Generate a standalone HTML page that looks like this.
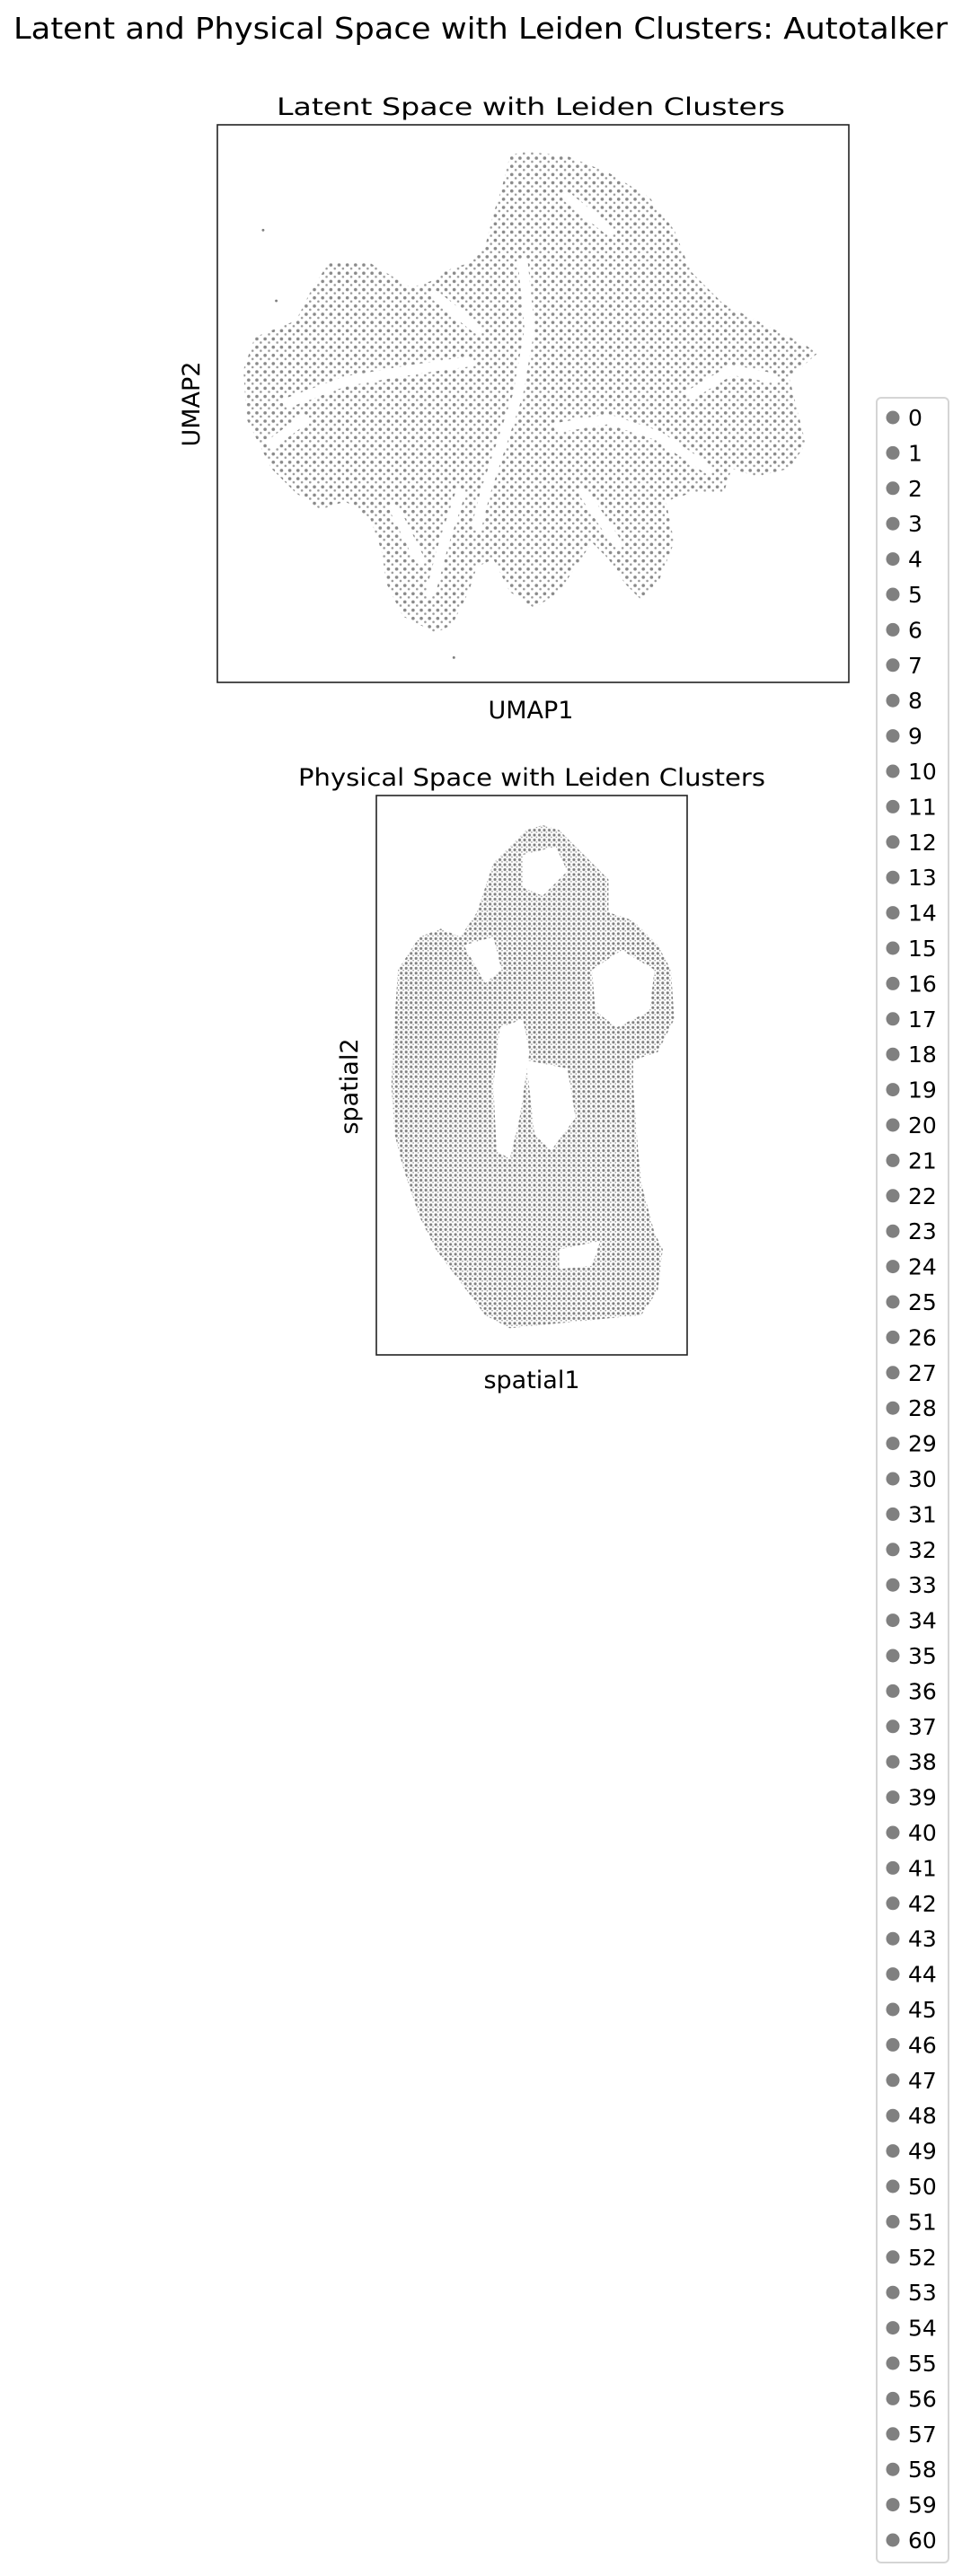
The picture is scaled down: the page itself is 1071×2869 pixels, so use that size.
<!DOCTYPE html>
<html><head><meta charset="utf-8"><style>
html,body{margin:0;padding:0;background:#fff;}
svg{display:block;font-family:"DejaVu Sans","Liberation Sans",sans-serif;}
</style></head><body>
<svg id="fig" width="1071" height="2869" viewBox="0 0 1071 2869">
<defs>
<pattern id="dotsU" width="5" height="5" patternUnits="userSpaceOnUse">
<rect width="5" height="5" fill="#fff"/><circle cx="1.2" cy="1.2" r="1.0" fill="#8a8a8a"/><circle cx="3.6" cy="3.4" r="0.7" fill="#999"/>
</pattern>
<pattern id="dotsS" width="3" height="3" patternUnits="userSpaceOnUse">
<rect width="3" height="3" fill="#fff"/><circle cx="1" cy="1" r="0.85" fill="#808080"/><circle cx="2.3" cy="2.3" r="0.45" fill="#999"/>
</pattern>
</defs>
<text x="535" y="43" text-anchor="middle" font-size="33" textLength="1040" lengthAdjust="spacingAndGlyphs">Latent and Physical Space with Leiden Clusters: Autotalker</text>

<g>
<text x="591" y="128" text-anchor="middle" font-size="27" textLength="566" lengthAdjust="spacingAndGlyphs">Latent Space with Leiden Clusters</text>
<g id="umapShapes" transform="scale(1.8308)"></g>
<rect x="242" y="139" width="703" height="621" fill="none" stroke="#222" stroke-width="1.6"/>
<text x="591" y="800" text-anchor="middle" font-size="27">UMAP1</text>
<text transform="translate(222,450) rotate(-90)" text-anchor="middle" font-size="27">UMAP2</text>
</g>

<g>
<text x="592" y="875" text-anchor="middle" font-size="27" textLength="520" lengthAdjust="spacingAndGlyphs">Physical Space with Leiden Clusters</text>
<g id="spatialShapes" transform="scale(1.8308)"></g>
<rect x="419" y="886" width="346" height="623" fill="none" stroke="#222" stroke-width="1.6"/>
<text x="592" y="1546" text-anchor="middle" font-size="27">spatial1</text>
<text transform="translate(398,1210) rotate(-90)" text-anchor="middle" font-size="27">spatial2</text>
</g>

<g id="legend">
<rect x="976" y="443" width="80" height="2411" rx="5" fill="#fff" stroke="#d5d5d5" stroke-width="2"/>
</g>
</svg>
<script>
const NS="http://www.w3.org/2000/svg";
// cluster labels
const clusterLabels=[];for(let i=0;i<=60;i++)clusterLabels.push(String(i));
// UMAP outline (display-scale coords)
const umapOutline=[[318,92],[345,95],[370,105],[395,120],[410,140],[420,165],[440,185],[470,200],[490,210],[497,215],[480,230],[490,270],[480,285],[460,290],[445,285],[440,300],[420,300],[405,305],[410,330],[400,355],[390,365],[380,355],[370,340],[360,330],[350,345],[340,360],[325,370],[310,360],[300,340],[290,345],[285,360],[275,380],[265,385],[245,375],[235,355],[232,335],[225,315],[210,305],[195,310],[180,300],[165,285],[150,255],[148,225],[155,205],[180,195],[190,175],[200,160],[225,160],[250,175],[265,170],[270,165],[285,160],[295,150],[300,130],[305,115],[310,95]];
const umapGaps=[[[318,160],[322,200],[315,240],[305,270],[295,300],[290,320]],[[175,245],[210,232],[250,225],[285,220]],[[165,270],[185,255]],[[340,260],[370,255],[400,265],[430,285]],[[355,300],[375,330]],[[280,300],[270,330],[262,360]],[[240,310],[255,340]],[[420,240],[445,225],[470,230]],[[265,180],[290,200]],[[345,120],[370,140]]];
// spatial outline
const spatialOutline=[[330,502],[340,505],[355,520],[370,535],[370,555],[385,560],[400,575],[408,590],[410,620],[400,640],[385,645],[385,660],[388,700],[390,720],[398,750],[403,760],[400,785],[390,800],[340,805],[310,808],[295,800],[280,780],[265,760],[255,740],[245,710],[240,690],[238,660],[240,620],[242,590],[255,570],[268,565],[280,570],[290,555],[295,540],[300,525],[310,515],[320,505]];
const spatialHoles=[[[282,575],[300,570],[305,590],[295,598]],[[304,625],[318,620],[322,640],[316,680],[310,705],[302,700],[300,660]],[[360,590],[378,578],[398,590],[395,615],[375,625],[362,615]],[[318,520],[338,515],[345,530],[330,545],[318,540]],[[320,645],[345,650],[350,680],[335,700],[325,690]],[[240,560],[265,560],[268,565],[255,570],[242,590]],[[340,760],[365,755],[360,770],[340,772]]];
function pts(a){return a.map(p=>p.join(',')).join(' ');}
const ug=document.getElementById('umapShapes');
let p=document.createElementNS(NS,'polygon');p.setAttribute('points',pts(umapOutline));p.setAttribute('fill','url(#dotsU)');


ug.appendChild(p);
umapGaps.forEach(g=>{const l=document.createElementNS(NS,'polyline');l.setAttribute('points',pts(g));l.setAttribute('fill','none');l.setAttribute('stroke','#fff');l.setAttribute('stroke-width','6');l.setAttribute('stroke-linecap','round');l.setAttribute('stroke-linejoin','round');


ug.appendChild(l);});
[[168,183],[276,400],[160,140]].forEach(d=>{const c=document.createElementNS(NS,'circle');c.setAttribute('cx',d[0]);c.setAttribute('cy',d[1]);c.setAttribute('r','0.8');c.setAttribute('fill','#808080');


ug.appendChild(c);});
const sg=document.getElementById('spatialShapes');
p=document.createElementNS(NS,'polygon');p.setAttribute('points',pts(spatialOutline));p.setAttribute('fill','url(#dotsS)');


sg.appendChild(p);
spatialHoles.forEach(h=>{const q=document.createElementNS(NS,'polygon');q.setAttribute('points',pts(h));q.setAttribute('fill','#fff');


sg.appendChild(q);});
const lg=document.getElementById('legend');
clusterLabels.forEach((lab,i)=>{const y=465+i*39.4;
const c=document.createElementNS(NS,'circle');c.setAttribute('cx',994);c.setAttribute('cy',y);c.setAttribute('r',7.5);c.setAttribute('fill','#808080');


lg.appendChild(c);
const t=document.createElementNS(NS,'text');t.setAttribute('x',1011);t.setAttribute('y',y+9);t.setAttribute('font-size','25');t.textContent=lab;


lg.appendChild(t);});
</script>
</body></html>
